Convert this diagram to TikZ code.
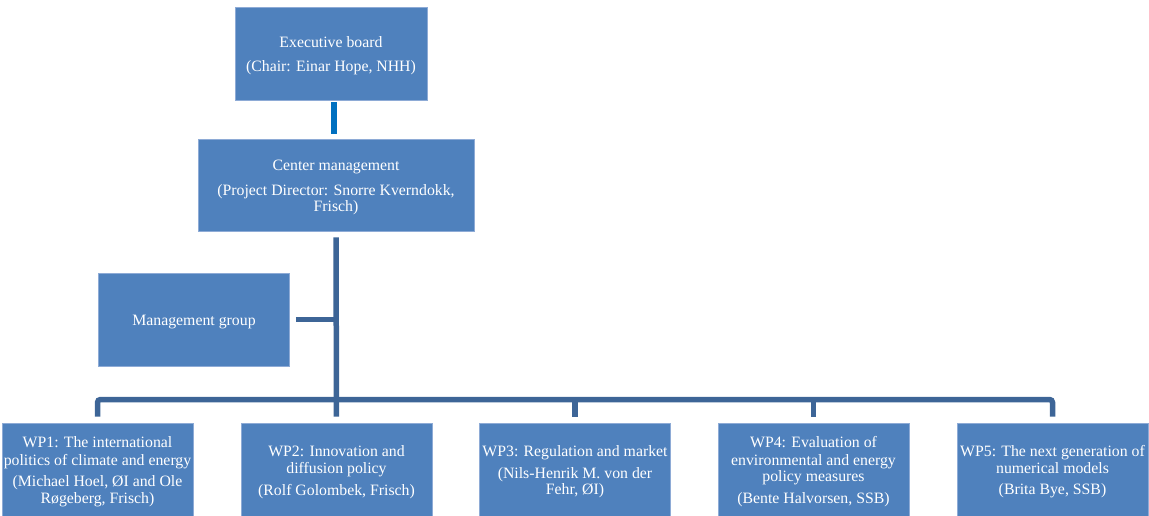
\documentclass[tikz,border=0pt]{standalone}
\usepackage{fontspec}
\setmainfont{Liberation Serif}
\definecolor{boxblue}{HTML}{4F81BD}
\definecolor{boxedge}{HTML}{8EABD6}
\definecolor{connblue}{HTML}{3D6597}
\definecolor{boardblue}{HTML}{0070C0}
\newcommand{\topstrut}{\rule{0pt}{15.5pt}}
\tikzset{
  orgbox/.style={fill=boxblue, draw=boxedge, line width=0.7pt, text=white,
    align=center, minimum width=192pt, minimum height=93pt, inner sep=0pt,
    font=\fontsize{15.8}{17.5}\selectfont},
  conn/.style={draw=connblue, line width=5.5pt},
  boardconn/.style={draw=boardblue, line width=6pt}
}
\begin{document}
\begin{tikzpicture}[x=1pt,y=-1pt]
\useasboundingbox (0,0) rectangle (1149,516);
\node[orgbox] (eb) at (331,53.5) {\topstrut Executive board\\[7pt](Chair: Einar Hope, NHH)};
\node[orgbox, minimum width=276pt, minimum height=92pt] (cm) at (336,185) {\topstrut Center management\\[7pt](Project Director: Snorre Kverndokk,\\[-1pt]Frisch)};
\node[orgbox, minimum width=191pt] (mg) at (194,319.5) {\topstrut Management group};
\node[orgbox, minimum width=191pt] (wp1) at (97.5,469.5) {\topstrut WP1: The international\\politics of climate and energy\\[4pt](Michael Hoel, ØI and Ole\\[-1pt]Røgeberg, Frisch)};
\node[orgbox, minimum width=191pt] (wp2) at (336.5,469.5) {\topstrut WP2: Innovation and\\diffusion policy\\[4pt](Rolf Golombek, Frisch)};
\node[orgbox, minimum width=191pt] (wp3) at (575,469.5) {\topstrut WP3: Regulation and market\\[4pt](Nils-Henrik M. von der\\[-1pt]Fehr, ØI)};
\node[orgbox, minimum width=191pt] (wp4) at (813.5,469.5) {\topstrut WP4: Evaluation of\\environmental and energy\\[-1pt]policy measures\\[4pt](Bente Halvorsen, SSB)};
\node[orgbox, minimum width=191pt] (wp5) at (1052.5,469.5) {\topstrut WP5: The next generation of\\[-1pt]numerical models\\[4pt](Brita Bye, SSB)};
\coordinate (bus) at (336.5,399.5);
% board to center management
\draw[boardconn, shorten <=2pt, shorten >=5pt] ([xshift=3pt]eb.south) -- ([xshift=-2pt]cm.north);
% trunk through to WP2
\draw[conn, shorten <=6pt, shorten >=6pt] (cm.south) -- (wp2.north);
% management group link
\draw[conn, shorten <=6pt] (mg.east) -- (mg.east -| cm.south);
% bus with end drops
\draw[conn, rounded corners=3pt, shorten <=6pt, shorten >=6pt] (wp1.north) |- (bus) -| (wp5.north);
% middle drops
\draw[conn, shorten <=6pt] (wp3.north) -- (wp3.north |- bus);
\draw[conn, shorten <=6pt] (wp4.north) -- (wp4.north |- bus);
\end{tikzpicture}
\end{document}
